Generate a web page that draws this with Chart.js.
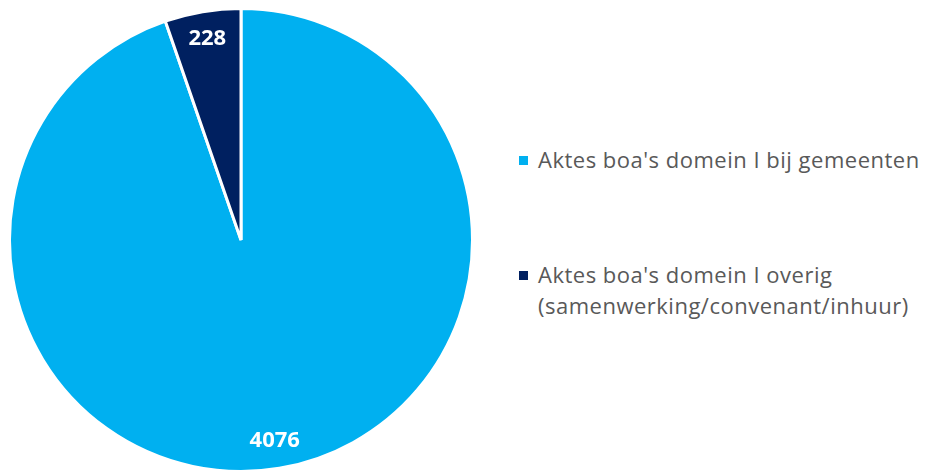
<!DOCTYPE html>
<html><head><meta charset="utf-8">
<script src="https://cdn.jsdelivr.net/npm/chart.js@4"></script>
<style>
html,body{margin:0;padding:0;background:#fff;width:929px;height:473px;overflow:hidden}
#wrap{position:absolute;left:6px;top:5px;width:470px;height:470px}
#legend{position:absolute;left:517px;top:0;font-family:"Open Sans",sans-serif;font-size:22px;letter-spacing:0.5px;color:#595959}
.item{position:absolute;left:0;white-space:nowrap;line-height:31px}
.sw{position:absolute;left:2px;width:9px;height:9px}
.txt{position:absolute;left:21px}
</style></head><body>
<div id="wrap"><canvas id="c" width="470" height="470"></canvas></div>
<div id="legend"></div>
<script>
const categories = ["Aktes boa's domein I bij gemeenten", "Aktes boa's domein I overig (samenwerking/convenant/inhuur)"];
const legendLines = [["Aktes boa's domein I bij gemeenten"], ["Aktes boa's domein I overig", "(samenwerking/convenant/inhuur)"]];
const values = [4076, 228];
const colors = ["#00B0F0", "#002060"];

const legendTops = [144, 259];
const lg = document.getElementById('legend');
legendLines.forEach((lines, i) => {
  const it = document.createElement('div');
  it.className = 'item';
  it.style.top = legendTops[i] + 'px';
  it.innerHTML = '<div class="sw" style="top:12px;background:' + colors[i] + '"></div>' +
    '<div class="txt">' + lines.map(l => l.replace(/</g,'&lt;')).join('<br>') + '</div>';
  lg.appendChild(it);
});

const labelPlugin = {
  id: 'pieLabels',
  afterDatasetsDraw(chart) {
    const ctx = chart.ctx;
    const meta = chart.getDatasetMeta(0);
    ctx.save();
    ctx.fillStyle = '#fff';
    ctx.font = 'bold 22px "Open Sans", sans-serif';
    ctx.textAlign = 'center';
    ctx.textBaseline = 'middle';
    meta.data.forEach((arc, i) => {
      const p = arc.getProps(['x','y','startAngle','endAngle','outerRadius'], true);
      const mid = (p.startAngle + p.endAngle) / 2;
      const r = p.outerRadius * 0.88;
      ctx.fillText(String(values[i]), p.x + Math.cos(mid) * r, p.y + Math.sin(mid) * r);
    });
    ctx.restore();
  }
};

new Chart(document.getElementById('c'), {
  type: 'pie',
  data: {
    labels: categories,
    datasets: [{
      data: values,
      backgroundColor: colors,
      borderColor: '#ffffff',
      borderWidth: 3
    }]
  },
  options: {
    responsive: false,
    animation: false,
    layout: { padding: 2 },
    plugins: { legend: { display: false }, tooltip: { enabled: false } }
  },
  plugins: [labelPlugin]
});
</script>
</body></html>
